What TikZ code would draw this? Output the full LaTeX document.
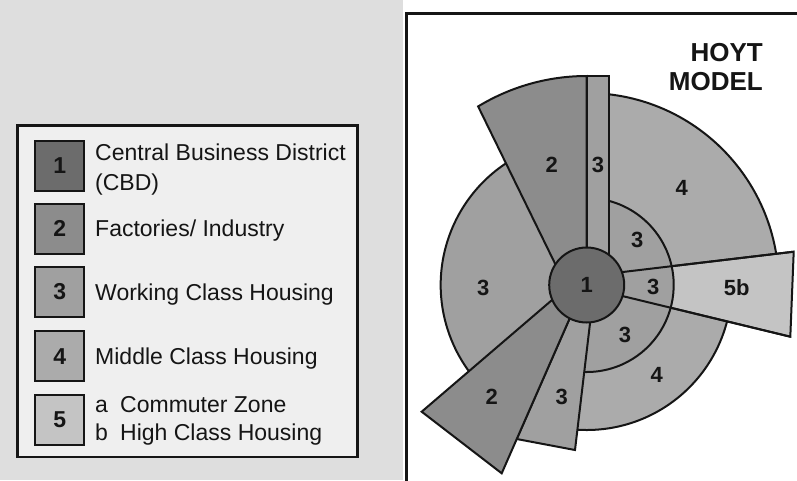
\documentclass[tikz,border=0pt]{standalone}
\usepackage{fontspec}
\setmainfont{Liberation Sans}
\definecolor{zoneA}{HTML}{6C6C6C}
\definecolor{zoneB}{HTML}{8C8C8C}
\definecolor{zoneC}{HTML}{A0A0A0}
\definecolor{zoneD}{HTML}{ABABAB}
\definecolor{zoneE}{HTML}{C4C4C4}
\definecolor{pagegray}{HTML}{DEDEDE}
\definecolor{keyfill}{HTML}{EFEFEF}
\definecolor{ink}{HTML}{151515}
\begin{document}
\begin{tikzpicture}[x=1pt,y=1pt,
  zone/.style={draw=ink,line width=2pt},
  swatch/.style={draw=ink,line width=2pt,minimum width=49pt,minimum height=50pt,
    inner sep=0pt,text=ink,font=\fontsize{23}{23}\selectfont\bfseries},
  legtext/.style={anchor=base west,inner sep=0pt,text=ink,
    font=\fontsize{23}{23}\selectfont},
  zlabel/.style={inner sep=0pt,text=ink,font=\fontsize{22}{22}\selectfont\bfseries},
  title/.style={anchor=east,inner sep=0pt,text=ink,font=\fontsize{26}{26}\selectfont\bfseries},
  cbdnode/.style={circle,zone,fill=zoneA,minimum size=75pt,inner sep=0pt,
    text=ink,font=\fontsize{22}{22}\selectfont\bfseries}]
\useasboundingbox (0,0) rectangle (797,-480);

% page background and framed model panel
\fill[pagegray] (0,0) rectangle (403,-480);
\fill[white] (403,0) rectangle (797,-480);
\draw[ink,line width=3pt] (406.5,-482) -- (406.5,-13) -- (800,-13);

% legend
\draw[ink,line width=2.5pt,fill=keyfill] (17.5,-125.5) rectangle (357.5,-457);
\node[swatch,fill=zoneA] (s1) at (59.7,-165.5) {1};
\node[swatch,fill=zoneB] (s2) at (59.7,-228.5) {2};
\node[swatch,fill=zoneC] (s3) at (59.7,-292) {3};
\node[swatch,fill=zoneD] (s4) at (59.7,-356.3) {4};
\node[swatch,fill=zoneE] (s5) at (59.7,-419.7) {5};
\node[legtext] (t1a) at (95,-160.5) {Central Business District};
\node[legtext] (t1b) at (95,-190) {(CBD)};
\node[legtext] (t2) at (95,-236) {Factories/ Industry};
\node[legtext] (t3) at (95,-300.5) {Working Class Housing};
\node[legtext] (t4) at (95,-364) {Middle Class Housing};
\node[legtext] (t5a) at (95,-412.5) {a};
\node[legtext] (t5b) at (120,-412.5) {Commuter Zone};
\node[legtext] (t5c) at (95,-440.5) {b};
\node[legtext] (t5d) at (120,-440.5) {High Class Housing};

% sectors and zones around the CBD
\begin{scope}[shift={(586.7,-285)}]
  % working class housing, west side
  \path[zone,fill=zoneC] (0,0) -- (110:146pt) arc[start angle=110,end angle=230,radius=146pt] -- cycle;
  % middle class housing, north-east (wide) and south-east (narrow)
  \path[zone,fill=zoneD] (0,0) -- (85:192pt) arc[start angle=85,end angle=-5,radius=192pt] -- cycle;
  \path[zone,fill=zoneD] (0,0) -- (5:145pt) arc[start angle=5,end angle=-95,radius=145pt] -- cycle;
  % high class housing wedge
  \path[zone,fill=zoneE] (10,9.9) -- (207,33.3) -- (203.6,-51.7) -- (10,-4.8) -- cycle;
  % inner ring of working class housing
  \path[zone,fill=zoneC] (0,0) -- (88:87pt) arc[start angle=88,end angle=-94,radius=87pt] -- cycle;
  \draw[zone] (10,9.9) -- (207,33.3) (10,-4.8) -- (203.6,-51.7);
  % northern factory sector and housing strip
  \path[zone,fill=zoneB] (0,0) -- (0,209) arc[start angle=90,end angle=121.3,radius=209pt]
    -- (-36.7,31.7) -- (-22.4,2.4) -- cycle;
  \path[zone,fill=zoneC] (0,0) rectangle (22,208.6);
  % southern housing and factory sectors
  \path[zone,fill=zoneC] (-7.3,-11.2) -- (-70,-154) -- (-11.7,-165) -- (3.3,-38.3) -- (4,-12) -- cycle;
  \path[zone,fill=zoneB] (-11,5.3) -- (-165,-126.7) -- (-85,-188.3) -- (-7.3,-11.2) -- cycle;
\end{scope}
\node[cbdnode] (cbd) at (586.7,-285) {1};

% zone numbers
\node[zlabel] (n2a) at (551.7,-165) {2};
\node[zlabel] (n3a) at (598,-165) {3};
\node[zlabel] (n4a) at (681.7,-188.3) {4};
\node[zlabel] (n3b) at (637.3,-240) {3};
\node[zlabel] (n3c) at (483.3,-288.3) {3};
\node[zlabel] (n3d) at (653.3,-287.3) {3};
\node[zlabel] (n5b) at (736.7,-287.3) {5b};
\node[zlabel] (n3e) at (625,-335) {3};
\node[zlabel] (n4b) at (656.7,-375) {4};
\node[zlabel] (n2b) at (491.7,-396.7) {2};
\node[zlabel] (n3f) at (561.7,-396.7) {3};

% title
\node[title] (hoyt) at (763,-53) {HOYT};
\node[title] (model) at (763,-82) {MODEL};
\end{tikzpicture}
\end{document}
